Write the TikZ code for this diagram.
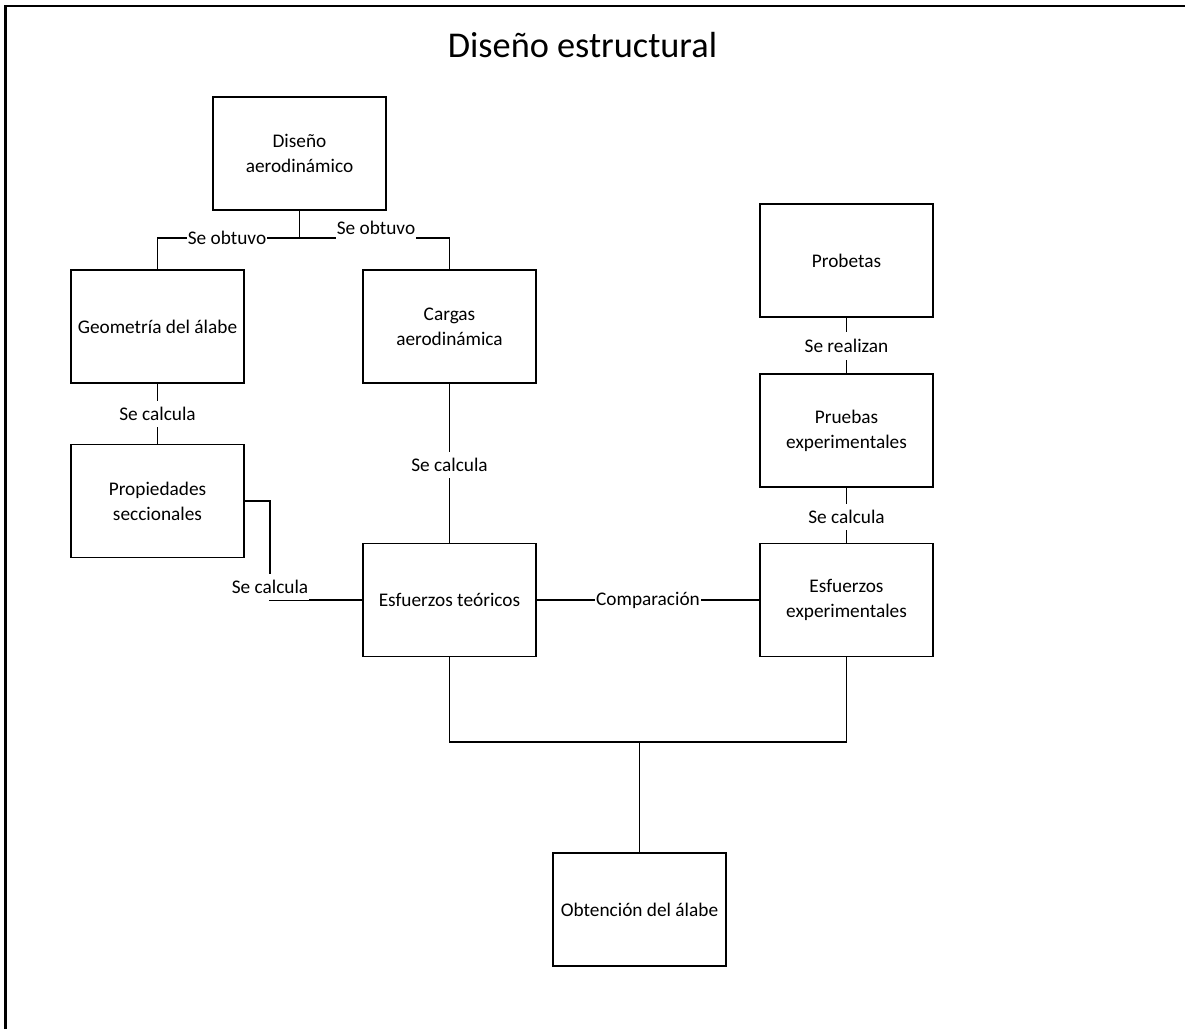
\documentclass[tikz,border=0pt]{standalone}
\usepackage{fontspec}
\setmainfont{Carlito}
\begin{document}
\begin{tikzpicture}[x=1pt,y=-1pt,
  line width=1.8pt,
  box/.style={draw,line width=1.6pt,minimum width=173pt,minimum height=113pt,inner sep=0pt,
    align=center,font=\fontsize{19.3}{25}\selectfont},
  lbl/.style={fill=white,inner xsep=1pt,inner ysep=0pt,minimum height=26pt,
    font=\fontsize{19.3}{23}\selectfont},
  wire/.style={line width=1.6pt}]
\useasboundingbox (0,0) rectangle (1185,1029);

% outer frame (top and left edges)
\draw[line width=2.2pt] (5.5,1029) -- (5.5,6) -- (1185,6);

\node[font=\fontsize{36.3}{40}\selectfont] (title) at (582.5,45) {Diseño estructural};

% boxes
\node[box] (dis) at (299.5,153.5) {Diseño\\aerodinámico};
\node[box] (geo) at (157.5,326.5) {Geometría del álabe};
\node[box] (car) at (449.5,326.5) {Cargas\\aerodinámica};
\node[box] (pro) at (157.5,501) {Propiedades\\seccionales};
\node[box] (teo) at (449.5,600) {Esfuerzos teóricos};
\node[box] (prb) at (846.5,260.5) {Probetas};
\node[box] (pru) at (846.5,430.5) {Pruebas\\experimentales};
\node[box] (exp) at (846.5,600) {Esfuerzos\\experimentales};
\node[box] (obt) at (639.5,909.5) {Obtención del álabe};

% junction points
\coordinate (j1) at (299.5,238);
\coordinate (k1) at (270,600);
\coordinate (b1) at (449.5,742);
\coordinate (b2) at (846.5,742);
\coordinate (b3) at (639.5,742);

% connectors
\draw[wire] (dis.south) -- (j1);
\draw[wire] (geo.north) |- (j1) -| (car.north);
\draw[wire] (geo.south) -- (pro.north);
\draw[wire] (car.south) -- (teo.north);
\draw[wire] (pro.east) -| (k1) -- (teo.west);
\draw[wire] (teo.east) -- (exp.west);
\draw[wire] (prb.south) -- (pru.north);
\draw[wire] (pru.south) -- (exp.north);
\draw[wire] (teo.south) -- (b1) -- (b2) -- (exp.south);
\draw[wire] (b3) -- (obt.north);

% connector labels
\node[lbl] (l1) at (227,238) {Se obtuvo};
\node[lbl] (l2) at (376,228) {Se obtuvo};
\node[lbl] (l3) at (157.5,414) {Se calcula};
\node[lbl] (l4) at (449.5,465) {Se calcula};
\node[lbl] (l5) at (270,587) {Se calcula};
\node[lbl] (l6) at (648,600) {Comparación};
\node[lbl,minimum height=28pt] (l7) at (846.5,346) {Se realizan};
\node[lbl] (l8) at (846.5,517) {Se calcula};
\end{tikzpicture}
\end{document}
